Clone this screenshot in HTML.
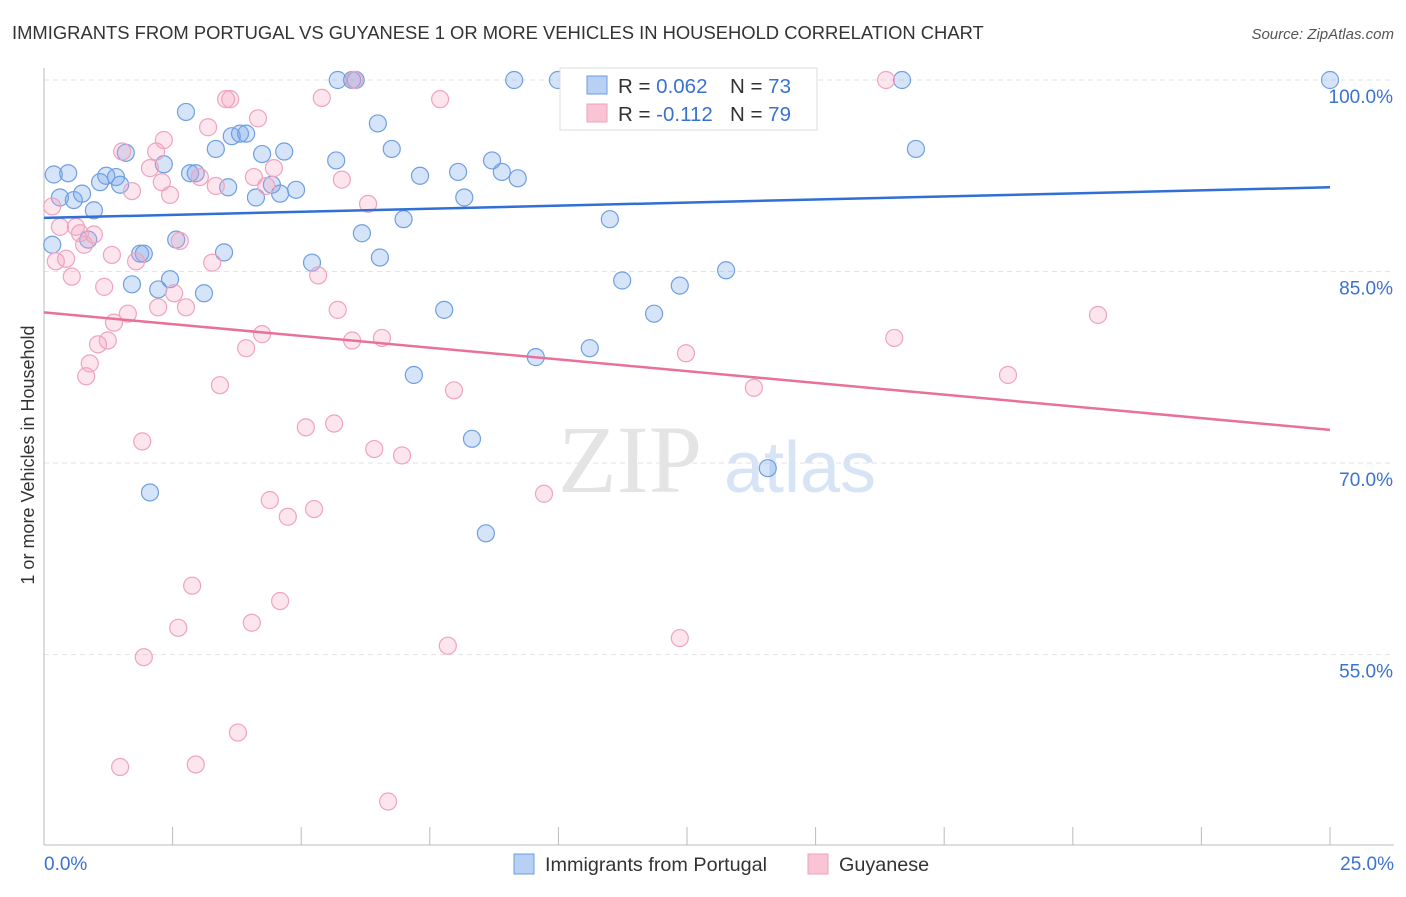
<!DOCTYPE html>
<html><head><meta charset="utf-8"><style>
body{margin:0;background:#fff;font-family:"Liberation Sans",sans-serif;}
</style></head><body>
<svg id="c" width="1406" height="892" xmlns="http://www.w3.org/2000/svg">
<text x="12" y="39" font-size="18.4" fill="#333">IMMIGRANTS FROM PORTUGAL VS GUYANESE 1 OR MORE VEHICLES IN HOUSEHOLD CORRELATION CHART</text>
<text x="1394" y="39" font-size="15" fill="#555" font-style="italic" text-anchor="end">Source: ZipAtlas.com</text>
<text x="630" y="492" font-size="96" fill="#e4e4e4" font-family="Liberation Serif" text-anchor="middle">ZIP</text>
<text x="800" y="492" font-size="72" fill="#d6e4f5" text-anchor="middle">atlas</text>
<g id="grid"></g><g id="axes"></g><g id="pts"></g><g id="lines"></g>
<text transform="translate(34,455) rotate(-90)" font-size="18" fill="#333" text-anchor="middle">1 or more Vehicles in Household</text>
<g>
<rect x="560" y="68" width="257" height="62" fill="#fff" stroke="#ddd"/>
<rect x="587" y="76" width="20" height="18" fill="#b8d0f3" stroke="#6a9be0"/>
<rect x="587" y="104" width="20" height="18" fill="#f9c5d5" stroke="#f0a0bb"/>
<text x="618" y="93" font-size="20.5" fill="#333">R = <tspan fill="#3a72d0">0.062</tspan></text>
<text x="730" y="93" font-size="20.5" fill="#333">N = <tspan fill="#3a72d0">73</tspan></text>
<text x="618" y="121" font-size="20.5" fill="#333">R = <tspan fill="#3a72d0">-0.112</tspan></text>
<text x="730" y="121" font-size="20.5" fill="#333">N = <tspan fill="#3a72d0">79</tspan></text>
</g>
<g>
<rect x="514" y="854" width="20" height="20" fill="#b8d0f3" stroke="#6a9be0"/>
<text x="545" y="871" font-size="19.8" fill="#333">Immigrants from Portugal</text>
<rect x="808" y="854" width="20" height="20" fill="#f9c5d5" stroke="#f0a0bb"/>
<text x="839" y="871" font-size="19.8" fill="#333">Guyanese</text>
</g>
</svg>
<script>
const xTicks=[0,2.5,5,7.5,10,12.5,15,17.5,20,22.5,25];
const yTicks=[100,85,70,55];
const blueX=[0.19,0.47,0.31,0.58,0.74,0.97,0.86,0.16,1.09,1.21,1.40,1.48,1.59,1.87,1.94,1.71,2.06,2.22,2.45,2.33,2.57,2.76,2.84,2.95,3.11,3.34,3.50,3.58,3.65,3.81,3.93,4.12,4.24,4.43,4.59,4.67,4.90,5.21,5.68,5.71,6.06,5.99,6.18,6.49,6.53,6.76,6.99,7.19,7.31,7.78,8.05,8.17,8.32,8.59,8.71,8.90,9.14,9.21,9.56,9.99,10.61,11.00,11.24,11.86,12.36,13.26,13.84,14.07,16.68,16.95,25.00];
const blueY=[92.6,92.7,90.8,90.6,91.1,89.8,87.5,87.1,92.0,92.5,92.4,91.8,94.3,86.4,86.4,84.0,67.7,83.6,84.4,93.4,87.5,97.5,92.7,92.7,83.3,94.6,86.5,91.6,95.6,95.8,95.8,90.8,94.2,91.8,91.1,94.4,91.4,85.7,93.7,100,100,100,88.0,96.6,86.1,94.6,89.1,76.9,92.5,82.0,92.8,90.8,71.9,64.5,93.7,92.8,100,92.3,78.3,100,79.0,89.1,84.3,81.7,83.9,85.1,100,69.6,100,94.6,100];
const pinkX=[0.16,0.23,0.31,0.43,0.54,0.62,0.70,0.78,0.82,0.89,0.97,1.05,1.17,1.24,1.32,1.36,1.52,1.63,1.71,1.79,1.91,1.94,1.48,2.06,2.18,2.22,2.29,2.33,2.45,2.53,2.61,2.64,2.76,2.88,2.95,3.03,3.19,3.27,3.34,3.42,3.54,3.62,3.77,3.93,4.04,4.08,4.16,4.24,4.32,4.39,4.47,4.59,4.74,5.09,5.25,5.33,5.40,5.64,5.71,5.79,5.99,6.03,6.30,6.42,6.57,6.69,6.96,7.70,7.85,7.97,9.72,12.36,12.48,13.80,16.37,16.53,18.74,20.49];
const pinkY=[90.1,85.8,88.5,86.0,84.6,88.5,88.0,87.1,76.8,77.8,87.9,79.3,83.8,79.6,86.3,81.0,94.4,81.7,91.3,85.8,71.7,54.8,46.2,93.1,94.4,82.2,92.0,95.3,91.0,83.3,57.1,87.4,82.2,60.4,46.4,92.4,96.3,85.7,91.7,76.1,98.5,98.5,48.9,79.0,57.5,92.4,97.0,80.1,91.7,67.1,93.1,59.2,65.8,72.8,66.4,84.7,98.6,73.1,82.0,92.2,79.6,100,90.3,71.1,79.8,43.5,70.6,98.5,55.7,75.7,67.6,56.3,78.6,75.9,100,79.8,76.9,81.6];
const blueLine=[89.2,91.6], pinkLine=[81.8,72.6];
const NS="http://www.w3.org/2000/svg";
const L=44,R=1330,T=80,B=845;
const sx=v=>L+v/25*(R-L);
const sy=v=>T+(100-v)*12.77;
function mk(t,a,p){const e=document.createElementNS(NS,t);for(const k in a)e.setAttribute(k,a[k]);document.getElementById(p).appendChild(e);return e;}
yTicks.forEach(v=>{
 const g=mk('line',{x1:L,x2:1394,y1:sy(v),y2:sy(v),stroke:'#e3e3e3','stroke-dasharray':'5,4'},'grid');
 
 
 const t=mk('text',{x:1393,y:sy(v)+23,'font-size':19,fill:'#3a72d0','text-anchor':'end'},'axes');
 t.textContent=v.toFixed(1)+'%';
 
 
});
const xa=mk('line',{x1:L,x2:1394,y1:B,y2:B,stroke:'#bbb'},'axes');


const ya=mk('line',{x1:L,x2:L,y1:68,y2:B,stroke:'#bbb'},'axes');


xTicks.forEach(v=>{
 const l=mk('line',{x1:sx(v),x2:sx(v),y1:B,y2:B-18,stroke:'#bbb'},'axes');
 
 
});
[[0,'0.0%','start',44],[25,'25.0%','end',1394]].forEach(d=>{
 const t=mk('text',{x:d[3],y:870,'font-size':19,fill:'#3a72d0','text-anchor':d[2]},'axes');
 t.textContent=d[1];
 
 
});
function pts(X,Y,fill,stroke,name){X.forEach((x,i)=>{
 const c=mk('circle',{cx:sx(x),cy:sy(Y[i]),r:8.5,fill:fill,stroke:stroke,'stroke-width':1.2},'pts');
 
 
});}
pts(blueX,blueY,'rgba(120,165,235,0.3)','#6f9fe2','portugal-point');
pts(pinkX,pinkY,'rgba(245,160,190,0.28)','#f0a3be','guyanese-point');
const bl=mk('line',{x1:sx(0),x2:sx(25),y1:sy(blueLine[0]),y2:sy(blueLine[1]),stroke:'#2f6fd6','stroke-width':2.5},'lines');


const pl=mk('line',{x1:sx(0),x2:sx(25),y1:sy(pinkLine[0]),y2:sy(pinkLine[1]),stroke:'#e8719b','stroke-width':2.5},'lines');


</script>
</body></html>
